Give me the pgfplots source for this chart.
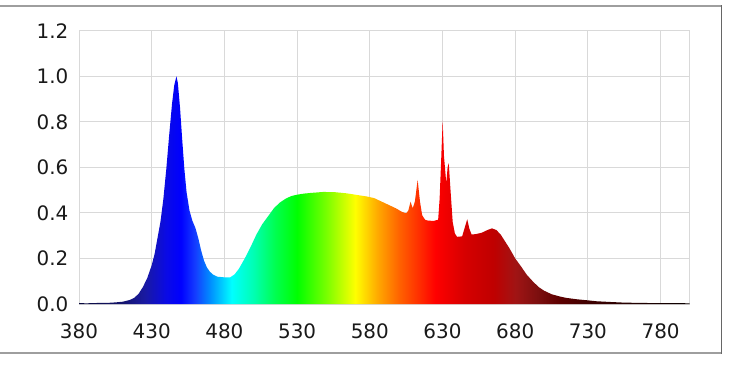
\documentclass[border=0pt]{standalone}
\usepackage{fontspec}
\setmainfont{DejaVu Sans}
\usepackage{pgfplots}
\pgfplotsset{compat=1.18}
\pgfplotstableread{
lambda value
380 0.004
385 0.003
390 0.004
395 0.005
400 0.005
405 0.007
410 0.010
415 0.018
418 0.027
421 0.045
424 0.075
427 0.115
430 0.17
432 0.22
434 0.29
436 0.36
438 0.46
440 0.59
442 0.74
444 0.88
445.5 0.96
447 1.0
448 0.97
449.5 0.86
451 0.72
452.5 0.59
454 0.49
456 0.41
458 0.365
460 0.335
462 0.29
464 0.235
466 0.19
468 0.16
470 0.142
472 0.13
475 0.12
480 0.117
484 0.117
487 0.13
490 0.155
494 0.2
498 0.25
502 0.305
506 0.35
510 0.385
514 0.42
518 0.445
522 0.462
526 0.474
530 0.48
535 0.485
540 0.488
548 0.492
556 0.491
564 0.486
572 0.478
578 0.472
583 0.465
588 0.45
593 0.435
598 0.42
602 0.405
605 0.398
606.5 0.41
608 0.449
609.5 0.42
611 0.45
612.9 0.545
614.5 0.45
616 0.39
618 0.37
620 0.366
624 0.365
627 0.37
628 0.46
629 0.62
630.1 0.805
631 0.65
632.6 0.53
633.5 0.60
634.3 0.618
635.5 0.50
637 0.36
638.5 0.31
640 0.295
643.5 0.297
645.5 0.34
647 0.372
648.5 0.33
650 0.305
653 0.307
657 0.313
661 0.325
664 0.332
667 0.325
670 0.305
673 0.275
676 0.245
680 0.2
684 0.165
688 0.128
692 0.1
696 0.075
700 0.058
705 0.043
710 0.034
715 0.027
722 0.021
730 0.016
736 0.012
745 0.009
755 0.006
765 0.005
775 0.004
790 0.004
800 0.003
}\spectrum
\pgfdeclarehorizontalshading{spectrum}{100bp}{
rgb(0bp)=(0.04,0.04,0.24);
rgb(25bp)=(0.04,0.04,0.24);
rgb(28.57bp)=(0.08,0.08,0.43);
rgb(30.36bp)=(0.1,0.1,0.63);
rgb(32.14bp)=(0.04,0.04,0.9);
rgb(33.33bp)=(0,0,1);
rgb(34.52bp)=(0.08,0.24,1);
rgb(35.71bp)=(0,0.55,1);
rgb(37.5bp)=(0,1,1);
rgb(39.29bp)=(0,1,0.7);
rgb(41.07bp)=(0,1,0.31);
rgb(42.86bp)=(0,1,0);
rgb(45.24bp)=(0.47,1,0);
rgb(47.62bp)=(1,1,0);
rgb(49.4bp)=(1,0.67,0);
rgb(51.19bp)=(1,0.39,0);
rgb(52.98bp)=(1,0.16,0);
rgb(54.17bp)=(1,0,0);
rgb(56.55bp)=(0.84,0,0);
rgb(58.93bp)=(0.75,0,0);
rgb(60.71bp)=(0.63,0.08,0.08);
rgb(62.5bp)=(0.49,0.06,0.06);
rgb(64.29bp)=(0.37,0,0);
rgb(66.67bp)=(0.25,0,0);
rgb(70.24bp)=(0.14,0,0);
rgb(75bp)=(0.04,0,0);
rgb(100bp)=(0.04,0,0)}
\begin{document}
\begin{tikzpicture}
\path[use as bounding box] (0,0) rectangle (750bp,-373bp);
\begin{axis}[
  at={(79bp,-304bp)}, anchor=south west, scale only axis,
  width=610.7bp, height=273.3bp,
  xmin=380, xmax=800, ymin=0, ymax=1.2,
  xtick={380,430,480,530,580,630,680,730,780},
  ytick={0,0.2,0.4,0.6,0.8,1.0,1.2},
  grid=major,
  grid style={color=black!15, line width=0.9bp},
  axis line style={color=black!15, line width=0.9bp},
  major tick length=0pt,
  /pgf/number format/assume math mode=true,
  tick label style={font=\fontsize{20}{24}\selectfont, text=black!90},
  yticklabel style={/pgf/number format/fixed, /pgf/number format/fixed zerofill, /pgf/number format/precision=1, inner sep=0pt, anchor=east, xshift=-10.5bp},
  xticklabel style={/pgf/number format/set thousands separator={}, inner sep=0pt, anchor=north, yshift=-19.3bp},
  axis on top=false,
]
\addplot[draw=none, shade, shading=spectrum, shading angle=0] table[x=lambda, y=value] {\spectrum} \closedcycle;
\end{axis}
\draw[color=black!38, line width=2bp] (-2bp,-5.8bp) -- (721.5bp,-5.8bp);
\draw[color=black!38, line width=1.8bp] (-2bp,-353.3bp) -- (721.5bp,-353.3bp);
\draw[color=black!60, line width=1.5bp] (721.5bp,-5bp) -- (721.5bp,-354.2bp);
\end{tikzpicture}
\end{document}
